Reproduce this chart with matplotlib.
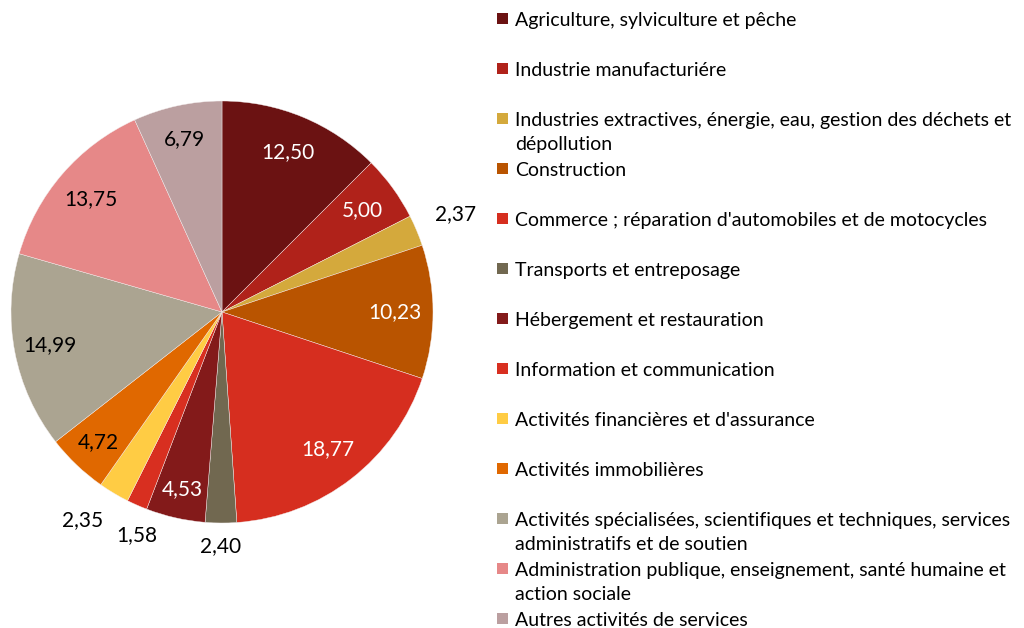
import numpy as np
import matplotlib
matplotlib.use("Agg")
from matplotlib import pyplot as plt
from matplotlib.patches import Rectangle

plt.rcParams['font.family'] = ['Lato', 'DejaVu Sans']

# share of each sector (%), clockwise from the top
sectors = [
    "Agriculture, sylviculture et pêche",
    "Industrie manufacturiére",
    "Industries extractives, énergie, eau, gestion des déchets et\ndépollution",
    "Construction",
    "Commerce ; réparation d'automobiles et de motocycles",
    "Transports et entreposage",
    "Hébergement et restauration",
    "Information et communication",
    "Activités financières et d'assurance",
    "Activités immobilières",
    "Activités spécialisées, scientifiques et techniques, services\nadministratifs et de soutien",
    "Administration publique, enseignement, santé humaine et\naction sociale",
    "Autres activités de services",
]
values = [12.50, 5.00, 2.37, 10.23, 18.77, 2.40, 4.53, 1.58, 2.35, 4.72, 14.99, 13.75, 6.79]
value_labels = ["12,50", "5,00", "2,37", "10,23", "18,77", "2,40", "4,53",
                "1,58", "2,35", "4,72", "14,99", "13,75", "6,79"]

colors = ["#6B1212", "#B0221A", "#D4A93C", "#B95400", "#D62E1F", "#716850",
          "#831A1A", "#D82F20", "#FFCC44", "#E06800", "#ABA491", "#E68888", "#BB9FA0"]
label_colors = ["white", "white", "black", "white", "white", "black", "white",
                "black", "black", "black", "black", "black", "black"]
label_dist = [0.82, 0.82, 1.2, 0.82, 0.82, 1.11, 0.86, 1.13, 1.19, 0.85, 0.83, 0.82, 0.84]
label_shift = [0, 0, 0, 0, 0, 0, 0, 2.8, -3.0, 0, 0, 0, 0]  # degrees, like Excel's best fit

W, H = 1024, 628
fig = plt.figure(figsize=(W / 100, H / 100), dpi=100)

# pie: centre (222, 312) px, radius 211 px
ax = fig.add_axes([11 / W, (H - 312 - 211) / H, 422 / W, 422 / H])
wedges, _ = ax.pie(values, colors=colors, startangle=90, counterclock=False,
                   wedgeprops=dict(edgecolor="#f4eeee", linewidth=0.3))
ax.set_xlim(-1, 1)
ax.set_ylim(-1, 1)
ax.set_aspect("equal")

for w, txt, c, d, s in zip(wedges, value_labels, label_colors, label_dist, label_shift):
    ang = np.deg2rad((w.theta1 + w.theta2) / 2 + s)
    ax.text(d * np.cos(ang), d * np.sin(ang), txt, color=c, fontsize=15,
            ha="center", va="center", clip_on=False)

# legend drawn by hand so wrapped entries keep the same spacing
for i, (name, c) in enumerate(zip(sectors, colors)):
    yc = 19 + 50 * i
    fig.patches.append(Rectangle((497 / W, 1 - (yc + 5) / H), 11 / W, 11 / H,
                                 facecolor=c, edgecolor="none",
                                 transform=fig.transFigure))
    fig.text(515 / W, 1 - (yc - 7) / H, name, fontsize=14, ha="left",
             va="top", linespacing=1.5, color="black")

fig.savefig("out.png", dpi=100)
